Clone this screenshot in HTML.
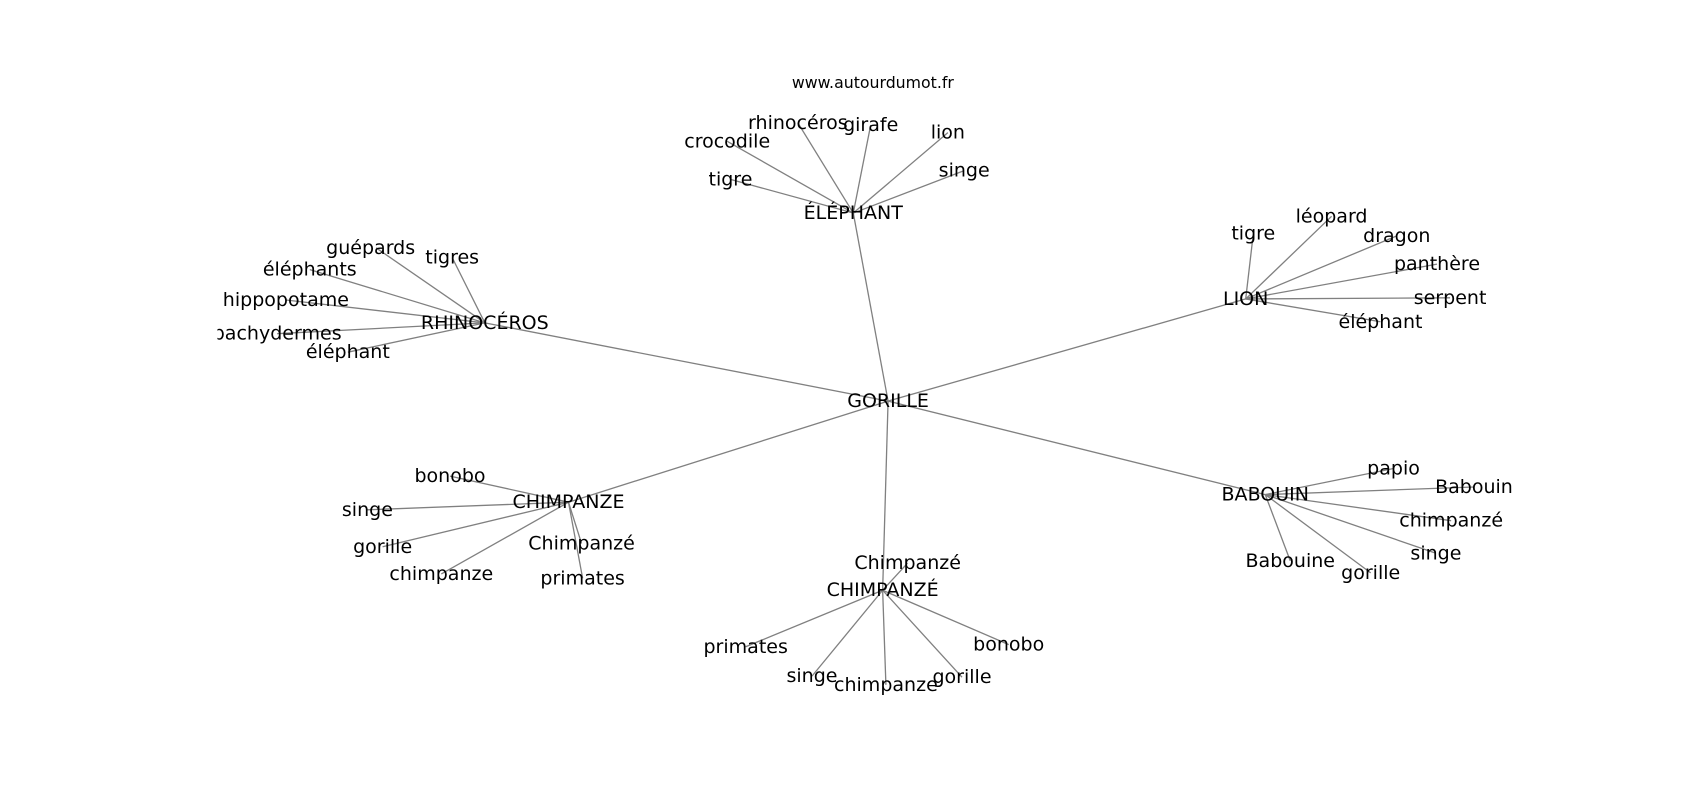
<!DOCTYPE html>
<html><head><meta charset="utf-8"><style>
html,body{margin:0;padding:0;background:#fff;}
svg{display:block;}
text{font-family:"DejaVu Sans","Liberation Sans",sans-serif;font-size:17.5px;fill:#000;text-anchor:middle;dominant-baseline:central;}
</style></head><body>
<svg width="1700" height="800" viewBox="0 0 1700 800" xmlns="http://www.w3.org/2000/svg">
<defs><clipPath id="c"><rect x="200" y="0" width="1500" height="800"/></clipPath></defs>
<g transform="scale(1.087)">
<text x="803" y="76" style="font-size:14.5px">www.autourdumot.fr</text>
<g clip-path="url(#c)">
<g stroke="#808080" stroke-width="1.2" fill="none">
<line x1="817" y1="369" x2="785" y2="196"/>
<line x1="817" y1="369" x2="446" y2="297"/>
<line x1="817" y1="369" x2="1146" y2="275"/>
<line x1="817" y1="369" x2="1164" y2="455"/>
<line x1="817" y1="369" x2="523" y2="462"/>
<line x1="817" y1="369" x2="812" y2="543"/>
<line x1="785" y1="196" x2="672" y2="165"/>
<line x1="785" y1="196" x2="669" y2="130"/>
<line x1="785" y1="196" x2="734" y2="113"/>
<line x1="785" y1="196" x2="801" y2="115"/>
<line x1="785" y1="196" x2="872" y2="122"/>
<line x1="785" y1="196" x2="887" y2="157"/>
<line x1="446" y1="297" x2="346" y2="228"/>
<line x1="446" y1="297" x2="416" y2="237"/>
<line x1="446" y1="297" x2="285" y2="248"/>
<line x1="446" y1="297" x2="263" y2="276"/>
<line x1="446" y1="297" x2="255" y2="307"/>
<line x1="446" y1="297" x2="320" y2="324"/>
<line x1="1146" y1="275" x2="1153" y2="215"/>
<line x1="1146" y1="275" x2="1225" y2="199"/>
<line x1="1146" y1="275" x2="1285" y2="217"/>
<line x1="1146" y1="275" x2="1322" y2="243"/>
<line x1="1146" y1="275" x2="1334" y2="274"/>
<line x1="1146" y1="275" x2="1270" y2="296"/>
<line x1="1164" y1="455" x2="1282" y2="431"/>
<line x1="1164" y1="455" x2="1356" y2="448"/>
<line x1="1164" y1="455" x2="1335" y2="479"/>
<line x1="1164" y1="455" x2="1321" y2="509"/>
<line x1="1164" y1="455" x2="1261" y2="527"/>
<line x1="1164" y1="455" x2="1187" y2="516"/>
<line x1="523" y1="462" x2="414" y2="438"/>
<line x1="523" y1="462" x2="338" y2="469"/>
<line x1="523" y1="462" x2="352" y2="503"/>
<line x1="523" y1="462" x2="406" y2="528"/>
<line x1="523" y1="462" x2="535" y2="500"/>
<line x1="523" y1="462" x2="536" y2="532"/>
<line x1="812" y1="543" x2="835" y2="518"/>
<line x1="812" y1="543" x2="686" y2="595"/>
<line x1="812" y1="543" x2="747" y2="622"/>
<line x1="812" y1="543" x2="815" y2="630"/>
<line x1="812" y1="543" x2="885" y2="623"/>
<line x1="812" y1="543" x2="928" y2="593"/>
</g>
<text x="817" y="369">GORILLE</text>
<text x="785" y="196">ÉLÉPHANT</text>
<text x="672" y="165">tigre</text>
<text x="669" y="130">crocodile</text>
<text x="734" y="113">rhinocéros</text>
<text x="801" y="115">girafe</text>
<text x="872" y="122">lion</text>
<text x="887" y="157">singe</text>
<text x="446" y="297">RHINOCÉROS</text>
<text x="341" y="228">guépards</text>
<text x="416" y="237">tigres</text>
<text x="285" y="248">éléphants</text>
<text x="263" y="276">hippopotame</text>
<text x="255" y="307">pachydermes</text>
<text x="320" y="324">éléphant</text>
<text x="1146" y="275">LION</text>
<text x="1153" y="215">tigre</text>
<text x="1225" y="199">léopard</text>
<text x="1285" y="217">dragon</text>
<text x="1322" y="243">panthère</text>
<text x="1334" y="274">serpent</text>
<text x="1270" y="296">éléphant</text>
<text x="1164" y="455">BABOUIN</text>
<text x="1282" y="431">papio</text>
<text x="1356" y="448">Babouin</text>
<text x="1335" y="479">chimpanzé</text>
<text x="1321" y="509">singe</text>
<text x="1261" y="527">gorille</text>
<text x="1187" y="516">Babouine</text>
<text x="523" y="462">CHIMPANZE</text>
<text x="414" y="438">bonobo</text>
<text x="338" y="469">singe</text>
<text x="352" y="503">gorille</text>
<text x="406" y="528">chimpanze</text>
<text x="535" y="500">Chimpanzé</text>
<text x="536" y="532">primates</text>
<text x="812" y="543">CHIMPANZÉ</text>
<text x="835" y="518">Chimpanzé</text>
<text x="686" y="595">primates</text>
<text x="747" y="622">singe</text>
<text x="815" y="630">chimpanze</text>
<text x="885" y="623">gorille</text>
<text x="928" y="593">bonobo</text>
</g>
</g>
</svg>
</body></html>
